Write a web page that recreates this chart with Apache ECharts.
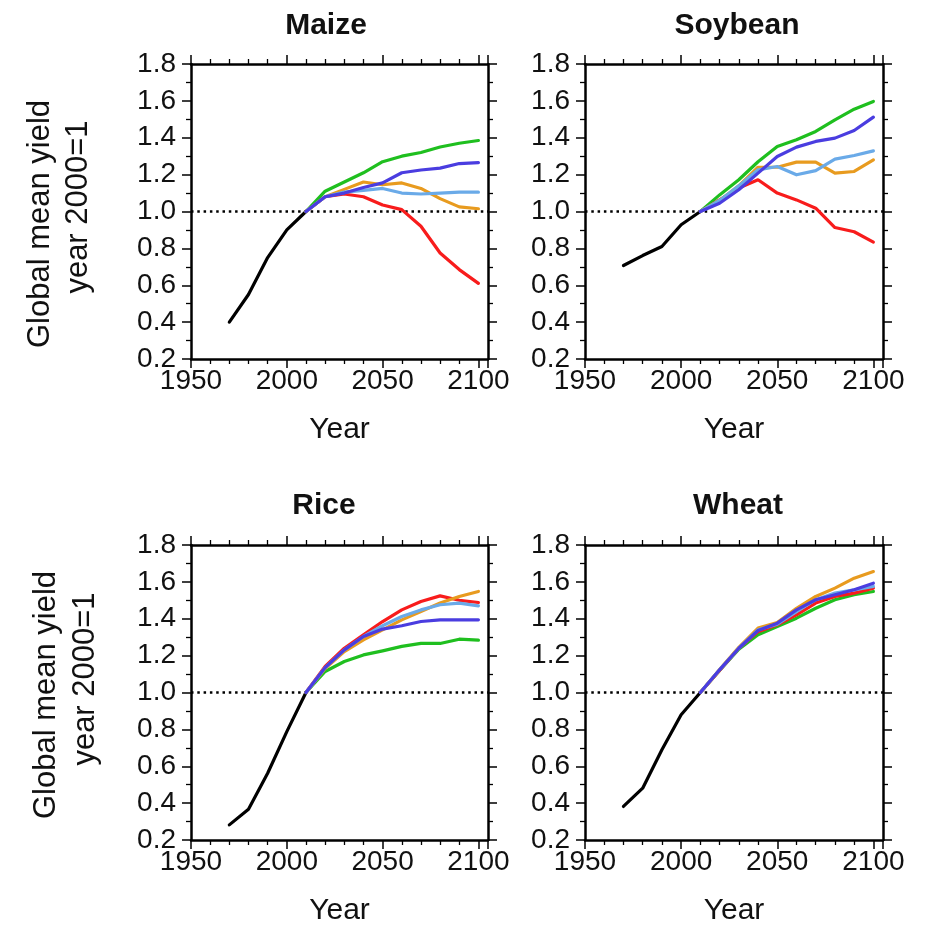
<!DOCTYPE html>
<html>
<head>
<meta charset="utf-8">
<script src="https://cdn.jsdelivr.net/npm/echarts@6/dist/echarts.min.js"></script>
<style>
  html, body { margin: 0; padding: 0; background: #fff; }
  #chart { width: 935px; height: 927px; }
</style>
</head>
<body>
<div id="chart"></div>
<script>
// ---- Data ----
const cropTitles = ['Maize', 'Soybean', 'Rice', 'Wheat'];
const histYears = [1970, 1980, 1990, 2000, 2010];
const projYears = [2010, 2020, 2030, 2040, 2050, 2060, 2070, 2080, 2090, 2100];
const xTickLabels = [1950, 2000, 2050, 2100];
const yTickLabels = [0.2, 0.4, 0.6, 0.8, 1.0, 1.2, 1.4, 1.6, 1.8];
const referenceLevel = 1.0;

const maizeObserved  = [0.40, 0.55, 0.75, 0.90, 1.00];
const maizeGreen     = [1.00, 1.11, 1.16, 1.21, 1.27, 1.30, 1.32, 1.35, 1.37, 1.385];
const maizeRed       = [1.00, 1.08, 1.095, 1.08, 1.035, 1.01, 0.92, 0.775, 0.685, 0.61];
const maizeOrange    = [1.00, 1.08, 1.12, 1.16, 1.145, 1.155, 1.125, 1.07, 1.025, 1.015];
const maizeLightBlue = [1.00, 1.08, 1.105, 1.115, 1.125, 1.10, 1.095, 1.10, 1.105, 1.105];
const maizeBlue      = [1.00, 1.08, 1.10, 1.13, 1.155, 1.21, 1.225, 1.235, 1.26, 1.265];

const soyObserved  = [0.707, 0.761, 0.81, 0.928, 1.00];
const soyGreen     = [1.00, 1.09, 1.172, 1.27, 1.353, 1.389, 1.434, 1.497, 1.555, 1.597];
const soyRed       = [1.00, 1.063, 1.127, 1.172, 1.10, 1.063, 1.018, 0.913, 0.89, 0.834];
const soyOrange    = [1.00, 1.06, 1.139, 1.24, 1.24, 1.268, 1.268, 1.208, 1.217, 1.28];
const soyLightBlue = [1.00, 1.06, 1.139, 1.226, 1.244, 1.199, 1.222, 1.284, 1.304, 1.329];
const soyBlue      = [1.00, 1.045, 1.118, 1.208, 1.298, 1.349, 1.38, 1.398, 1.439, 1.512];

const riceObserved  = [0.282, 0.367, 0.562, 0.788, 1.00];
const riceGreen     = [1.00, 1.114, 1.168, 1.204, 1.226, 1.25, 1.266, 1.266, 1.289, 1.284];
const riceRed       = [1.00, 1.141, 1.24, 1.313, 1.385, 1.448, 1.494, 1.524, 1.50, 1.488];
const riceOrange    = [1.00, 1.13, 1.222, 1.286, 1.34, 1.394, 1.439, 1.485, 1.521, 1.548];
const riceLightBlue = [1.00, 1.135, 1.231, 1.304, 1.362, 1.412, 1.448, 1.476, 1.485, 1.47];
const riceBlue      = [1.00, 1.135, 1.231, 1.304, 1.344, 1.362, 1.385, 1.394, 1.394, 1.394];

const wheatObserved  = [0.382, 0.481, 0.689, 0.879, 1.00];
const wheatGreen     = [1.00, 1.12, 1.235, 1.313, 1.358, 1.403, 1.457, 1.503, 1.53, 1.548];
const wheatRed       = [1.00, 1.12, 1.24, 1.33, 1.367, 1.421, 1.485, 1.521, 1.539, 1.566];
const wheatOrange    = [1.00, 1.125, 1.245, 1.349, 1.38, 1.457, 1.521, 1.566, 1.62, 1.656];
const wheatLightBlue = [1.00, 1.123, 1.24, 1.34, 1.37, 1.439, 1.503, 1.539, 1.557, 1.575];
const wheatBlue      = [1.00, 1.123, 1.24, 1.336, 1.376, 1.448, 1.503, 1.53, 1.557, 1.593];

// ---- Styling / layout ----
const FONT = "'Liberation Sans', Arial, Helvetica, sans-serif";
const colors = { observed: '#000000', green: '#1fbf1f', red: '#f81c1c', orange: '#e89b1f', lightBlue: '#6aaae8', blue: '#4a3de0' };
const grids = [
  { left: 191, top: 64, width: 297, height: 295 },
  { left: 585, top: 64, width: 298, height: 295 },
  { left: 191, top: 545, width: 297, height: 295 },
  { left: 585, top: 545, width: 298, height: 295 }
];
const titlePos = [[326, 26], [737, 26], [324, 506], [738, 506]];
const cropSeries = [
  [maizeObserved, maizeGreen, maizeRed, maizeOrange, maizeLightBlue, maizeBlue],
  [soyObserved, soyGreen, soyRed, soyOrange, soyLightBlue, soyBlue],
  [riceObserved, riceGreen, riceRed, riceOrange, riceLightBlue, riceBlue],
  [wheatObserved, wheatGreen, wheatRed, wheatOrange, wheatLightBlue, wheatBlue]
];
const seriesColors = [colors.observed, colors.green, colors.red, colors.orange, colors.lightBlue, colors.blue];

const xMin = xTickLabels[0], xMax = 2105, xStep = xTickLabels[1] - xTickLabels[0];
const yMin = yTickLabels[0], yMax = yTickLabels[yTickLabels.length - 1], yStep = 0.2;

const axisLine = { show: true, onZero: false, lineStyle: { color: '#000', width: 2.5 } };
const majorTick = { show: true, inside: false, length: 9, lineStyle: { color: '#000', width: 1.5 } };

const xAxes = [], yAxes = [], series = [];
grids.forEach((g, i) => {
  xAxes.push({
    gridIndex: i, type: 'value', position: 'bottom', min: xMin, max: xMax, interval: xStep,
    axisLine, axisTick: majorTick,
    minorTick: { show: true, splitNumber: 5, length: 5, lineStyle: { color: '#000', width: 1.3 } },
    splitLine: { show: false },
    axisLabel: { show: true, showMaxLabel: false, margin: 8, fontSize: 28, fontFamily: FONT, color: '#111',
      formatter: v => String(v) },
    name: 'Year', nameLocation: 'middle', nameGap: 56,
    nameTextStyle: { fontSize: 30, fontFamily: FONT, color: '#111' }
  });
  xAxes.push({
    gridIndex: i, type: 'value', position: 'top', min: xMin, max: xMax, interval: xStep,
    axisLine, axisTick: majorTick,
    minorTick: { show: true, splitNumber: 5, length: 5, lineStyle: { color: '#000', width: 1.3 } },
    splitLine: { show: false }, axisLabel: { show: false }
  });
  yAxes.push({
    gridIndex: i, type: 'value', position: 'left', min: yMin, max: yMax, interval: yStep,
    axisLine, axisTick: majorTick,
    minorTick: { show: true, splitNumber: 2, length: 5, lineStyle: { color: '#000', width: 1.3 } },
    splitLine: { show: false },
    axisLabel: { show: true, margin: 15, fontSize: 28, fontFamily: FONT, color: '#111',
      formatter: v => v.toFixed(1) }
  });
  yAxes.push({
    gridIndex: i, type: 'value', position: 'right', min: yMin, max: yMax, interval: yStep,
    axisLine, axisTick: majorTick,
    minorTick: { show: true, splitNumber: 2, length: 5, lineStyle: { color: '#000', width: 1.3 } },
    splitLine: { show: false }, axisLabel: { show: false }
  });
  cropSeries[i].forEach((vals, k) => {
    const years = k === 0 ? histYears : projYears;
    const s = {
      type: 'line', xAxisIndex: i * 2, yAxisIndex: i * 2,
      data: years.map((y, j) => [y, vals[j]]),
      showSymbol: false, symbol: 'none', smooth: false,
      lineStyle: { color: seriesColors[k], width: 3.2, cap: 'round', join: 'round' },
      z: 3 + k, silent: true, animation: false
    };
    if (k === 0) {
      s.markLine = {
        silent: true, symbol: 'none', animation: false, label: { show: false },
        lineStyle: { color: '#000', type: [2.5, 3.8], width: 2.5 },
        data: [{ yAxis: referenceLevel }]
      };
    }
    series.push(s);
  });
});

const graphic = [];
cropTitles.forEach((t, i) => {
  graphic.push({
    type: 'text', x: titlePos[i][0], y: titlePos[i][1],
    style: { text: t, fontSize: 30, fontWeight: 'bold', fontFamily: FONT, fill: '#111',
      textAlign: 'center', align: 'center', textVerticalAlign: 'middle', verticalAlign: 'middle' }
  });
});
const yNamePos = [
  { x1: 40, y1: 224, x2: 78, y2: 207 },
  { x1: 46, y1: 695, x2: 85, y2: 679 }
];
yNamePos.forEach(p => {
  [['Global mean yield', p.x1, p.y1], ['year 2000=1', p.x2, p.y2]].forEach(([t, x, y]) => {
    graphic.push({
      type: 'text', x: x, y: y, rotation: Math.PI / 2,
      style: { text: t, fontSize: 31, fontFamily: FONT, fill: '#111',
        textAlign: 'center', align: 'center', textVerticalAlign: 'middle', verticalAlign: 'middle' }
    });
  });
});

const chart = echarts.init(document.getElementById('chart'), null, { renderer: 'canvas' });
chart.setOption({
  animation: false,
  backgroundColor: '#fff',
  grid: grids.map(g => Object.assign({ containLabel: false }, g)),
  xAxis: xAxes,
  yAxis: yAxes,
  series: series,
  graphic: graphic
});
</script>
</body>
</html>
